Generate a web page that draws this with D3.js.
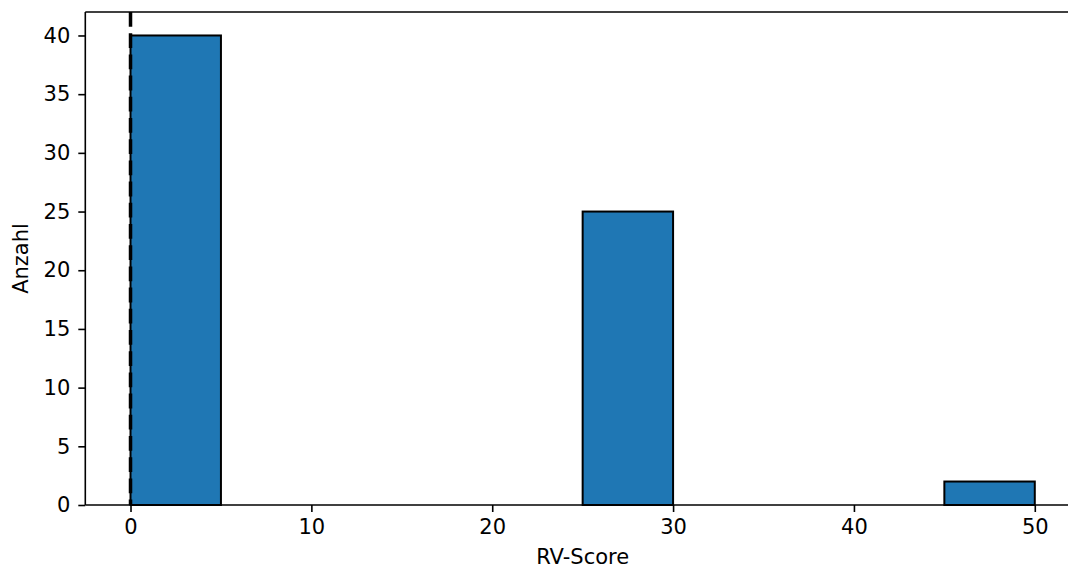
<!DOCTYPE html>
<html><head><meta charset="utf-8">
<script src="https://cdn.jsdelivr.net/npm/d3@7"></script>
<style>body{margin:0;background:#fff}svg{display:block}text{font-family:"DejaVu Sans",sans-serif;fill:#000}</style>
</head><body>
<svg id="c" width="1068" height="569"></svg>
<script>
const binEdges = [0,5,10,15,20,25,30,35,40,45,50];
const counts = [40,0,0,0,0,25,0,0,0,2];
const xTicks = [0,10,20,30,40,50];
const yTicks = [0,5,10,15,20,25,30,35,40];
const refLine = 0;

const svg = d3.select("#c");
const L = 85.3, R = 1080, T = 12, B = 505;
const FS = 21;
const x = d3.scaleLinear().domain([-2.5, 52.5]).range([L, R]);
const y = d3.scaleLinear().domain([0, 42]).range([B, T]);

const bars = counts.map((c,i)=>({x0:binEdges[i], x1:binEdges[i+1], c})).filter(d=>d.c>0);
svg.selectAll("rect.bar").data(bars).enter().append("rect")
  .attr("x", d=>x(d.x0)).attr("width", d=>x(d.x1)-x(d.x0))
  .attr("y", d=>y(d.c)).attr("height", d=>y(0)-y(d.c))
  .attr("fill","#1f77b4").attr("stroke","#000").attr("stroke-width",2);

svg.append("line").attr("x1",x(refLine)).attr("x2",x(refLine)).attr("y1",T).attr("y2",B)
  .attr("stroke","#000").attr("stroke-width",3.5).attr("stroke-dasharray","14.8,6.4");

const xa = svg.append("g").attr("transform",`translate(0,${B})`)
  .call(d3.axisBottom(x).tickValues(xTicks).tickSize(7).tickPadding(7).tickFormat(d3.format("d")));
const ya = svg.append("g").attr("transform",`translate(${L},0)`)
  .call(d3.axisLeft(y).tickValues(yTicks).tickSize(7).tickPadding(8).tickFormat(d3.format("d")));
[xa,ya].forEach(a=>{
  a.select(".domain").remove();
  a.selectAll("line").attr("stroke","#000").attr("stroke-width",1.6);
  a.selectAll("text").attr("font-size",FS).attr("font-family","DejaVu Sans");
});
// spines
svg.append("line").attr("x1",L).attr("x2",L).attr("y1",T).attr("y2",B).attr("stroke","#000").attr("stroke-width",1.6);
svg.append("line").attr("x1",L).attr("x2",R).attr("y1",B).attr("y2",B).attr("stroke","#000").attr("stroke-width",1.6);
svg.append("line").attr("x1",L).attr("x2",R).attr("y1",T).attr("y2",T).attr("stroke","#000").attr("stroke-width",1.6);
svg.append("line").attr("x1",R).attr("x2",R).attr("y1",T).attr("y2",B).attr("stroke","#000").attr("stroke-width",1.6);

svg.append("text").attr("x",(L+R)/2).attr("y",564).attr("text-anchor","middle").attr("font-size",FS).text("RV-Score");
svg.append("text").attr("transform",`translate(28,${(T+B)/2}) rotate(-90)`).attr("text-anchor","middle").attr("font-size",FS).text("Anzahl");
</script>
</body></html>
